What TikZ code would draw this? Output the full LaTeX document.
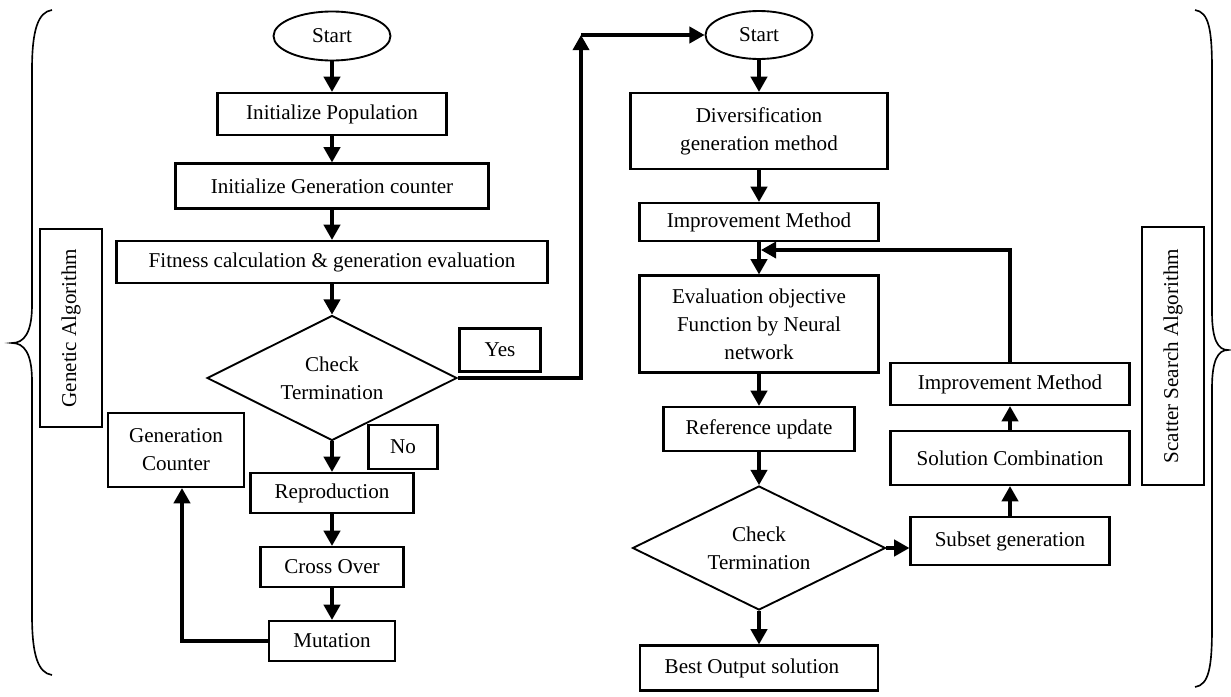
\documentclass[tikz,border=0pt]{standalone}
\usepackage{fontspec}
\setmainfont{Liberation Serif}
\usetikzlibrary{shapes.geometric, arrows.meta}
\tikzset{
	MyPix/.style={x=0.03cm, y=-0.03cm},
	MySize/.style 2 args={minimum width=#1*0.03cm, minimum height=#2*0.03cm},
	MyBox/.style={draw, line width=1.9pt, inner sep=0pt, align=center},
	MyStart/.style={draw, ellipse, line width=1.6pt, inner sep=0pt},
	MyCheck/.style={draw, diamond, aspect=2, line width=1.6pt, inner sep=0pt, align=center},
	MyArrow/.style={line width=2.6pt, -{Triangle[length=13pt, width=14pt]}},
	MyBrace/.style={line width=1.4pt}
}

\begin{document}
\begin{tikzpicture}[MyPix, font=\fontsize{18}{24}\selectfont]
	\useasboundingbox (0,0) rectangle (1231,696);

	% Genetic algorithm
	\node[MyStart, MySize={117}{49}] (start1) at (332,36) {Start};
	\node[MyBox, MySize={229}{42}] (initpop) at (332,114) {Initialize Population};
	\node[MyBox, MySize={313}{45}] (initgen) at (332,186) {Initialize Generation counter};
	\node[MyBox, MySize={431}{42}] (fitness) at (332,262) {Fitness calculation \& generation evaluation};
	\node[MyCheck, MySize={250}{125}] (check1) at (332,378) {Check\\Termination};
	\node[MyBox, MySize={81}{43}] (yes) at (500,350) {Yes};
	\node[MyBox, MySize={69}{44}] (no) at (403,447) {No};
	\node[MyBox, MySize={163}{40}] (repro) at (332,493) {\raisebox{-3pt}{Reproduction}};
	\node[MyBox, MySize={143}{40}] (cross) at (332,567) {Cross Over};
	\node[MyBox, MySize={126}{40}] (mut) at (332,641) {\raisebox{-4pt}{Mutation}};
	\node[MyBox, MySize={136}{74}] (gencount) at (176,450) {Generation\\Counter};
	\node[MyBox, MySize={198}{62}, rotate=90] (galabel) at (71,328) {Genetic Algorithm};

	\foreach \a/\b in {start1/initpop, initpop/initgen, initgen/fitness, fitness/check1,
		check1/repro, repro/cross, cross/mut}
		\draw[MyArrow] (\a) -- (\b);
	\draw[MyArrow] (mut.west) -| ([xshift=0.18cm]gencount.south);

	% Scatter search algorithm
	\node[MyStart, MySize={107}{48}] (start2) at (759,35) {Start};
	\node[MyBox, MySize={257}{76}] (divers) at (759,131) {Diversification\\generation method};
	\node[MyBox, MySize={239}{38}] (imp1) at (759,222) {\raisebox{-5pt}{Improvement Method}};
	\node[MyBox, MySize={239}{97}] (evalnn) at (759,324) {Evaluation objective\\Function by Neural\\network};
	\node[MyBox, MySize={191}{44}] (refupd) at (759,429) {Reference update};
	\node[MyCheck, MySize={253}{124}] (check2) at (759,548) {Check\\Termination};
	\node[MyBox, MySize={238}{45}] (best) at (759,668) {Best Output solution\hspace*{12pt}};
	\node[MyBox, MySize={239}{42}] (imp2) at (1010,384) {Improvement Method};
	\node[MyBox, MySize={239}{54}] (solcomb) at (1010,458) {Solution Combination};
	\node[MyBox, MySize={199}{48}] (subset) at (1010,541) {Subset generation};
	\node[MyBox, MySize={258}{62}, rotate=90] (sslabel) at (1173,356) {Scatter Search Algorithm};

	\foreach \a/\b in {start2/divers, divers/imp1, imp1/evalnn, evalnn/refupd,
		refupd/check2, check2/best, subset/solcomb, solcomb/imp2}
		\draw[MyArrow] (\a) -- (\b);
	\draw[MyArrow] (check2.east) -- (check2.east -| subset.west);
	\coordinate (joinpt) at (761,250);
	\draw[MyArrow] (imp2.north) |- (joinpt);

	% Yes branch to scatter search
	\coordinate (yestop) at (581,35);
	\draw[MyArrow] (check1.east) -| (yestop);
	\draw[MyArrow] (yestop) -- (start2.west);

	% Braces
	\draw[MyBrace] (52,10) .. controls (38,12) and (32,30) .. (32,70) -- (32,305)
		.. controls (32,333) and (24,343) .. (12,343) .. controls (24,343) and (32,353) .. (32,381)
		-- (32,615) .. controls (32,655) and (38,673) .. (52,675);
	\draw[MyBrace] (1195,10) .. controls (1209,12) and (1212,30) .. (1212,70) -- (1212,312)
		.. controls (1212,340) and (1218,350) .. (1228,350) .. controls (1218,350) and (1212,360) .. (1212,388)
		-- (1212,627) .. controls (1212,667) and (1209,685) .. (1195,687);
\end{tikzpicture}
\end{document}
